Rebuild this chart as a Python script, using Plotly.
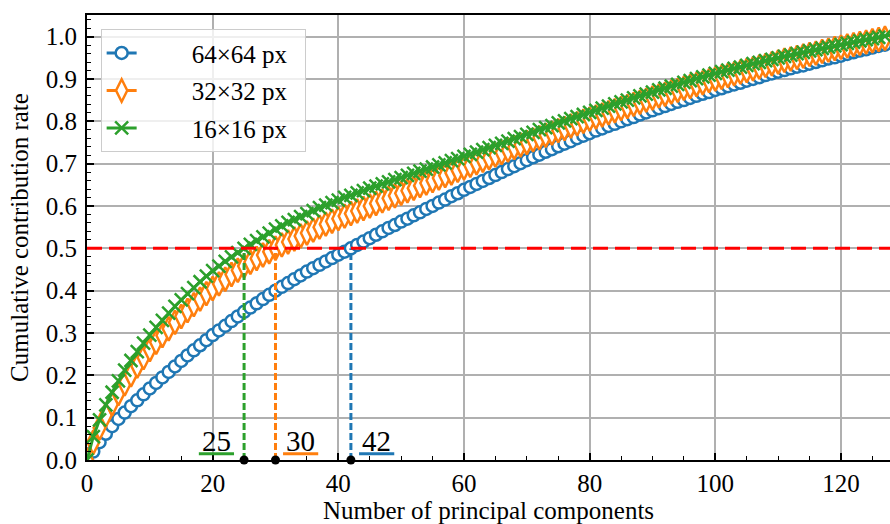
import plotly.graph_objects as go

# Number of retained principal components (0 .. 128)
n_components = list(range(129))

# Cumulative contribution rate for each patch size
rate_64 = [
    0.000, 0.020, 0.042, 0.062, 0.080, 0.097, 0.112, 0.127, 0.141, 0.155,
    0.169, 0.182, 0.195, 0.208, 0.221, 0.234, 0.247, 0.259, 0.271, 0.283,
    0.295, 0.306, 0.317, 0.328, 0.339, 0.350, 0.360, 0.370, 0.380, 0.390,
    0.400, 0.409, 0.418, 0.427, 0.436, 0.445, 0.453, 0.461, 0.469, 0.477,
    0.485, 0.492, 0.500, 0.508, 0.516, 0.524, 0.532, 0.540, 0.548, 0.555,
    0.563, 0.570, 0.578, 0.585, 0.593, 0.600, 0.608, 0.615, 0.623, 0.630,
    0.638, 0.645, 0.652, 0.659, 0.666, 0.673, 0.680, 0.687, 0.694, 0.701,
    0.708, 0.715, 0.721, 0.728, 0.734, 0.741, 0.747, 0.753, 0.760, 0.766,
    0.772, 0.778, 0.783, 0.789, 0.794, 0.800, 0.805, 0.810, 0.816, 0.821,
    0.826, 0.831, 0.836, 0.841, 0.846, 0.850, 0.855, 0.860, 0.865, 0.869,
    0.874, 0.878, 0.883, 0.887, 0.891, 0.896, 0.900, 0.904, 0.909, 0.913,
    0.917, 0.921, 0.925, 0.929, 0.932, 0.936, 0.940, 0.944, 0.948, 0.951,
    0.955, 0.959, 0.963, 0.967, 0.970, 0.974, 0.978, 0.981, 0.985,
]
rate_32 = [
    0.000, 0.042, 0.076, 0.106, 0.133, 0.157, 0.180, 0.201, 0.222, 0.242,
    0.261, 0.278, 0.294, 0.310, 0.325, 0.339, 0.353, 0.367, 0.380, 0.393,
    0.405, 0.416, 0.427, 0.438, 0.448, 0.458, 0.467, 0.476, 0.484, 0.492,
    0.500, 0.508, 0.515, 0.522, 0.529, 0.536, 0.543, 0.550, 0.557, 0.564,
    0.570, 0.576, 0.582, 0.588, 0.594, 0.600, 0.606, 0.612, 0.618, 0.624,
    0.630, 0.636, 0.642, 0.648, 0.654, 0.660, 0.666, 0.672, 0.678, 0.684,
    0.690, 0.696, 0.702, 0.708, 0.714, 0.720, 0.726, 0.732, 0.738, 0.744,
    0.750, 0.756, 0.761, 0.767, 0.772, 0.778, 0.783, 0.789, 0.794, 0.800,
    0.805, 0.810, 0.815, 0.820, 0.825, 0.830, 0.835, 0.840, 0.845, 0.850,
    0.855, 0.860, 0.864, 0.869, 0.873, 0.878, 0.882, 0.887, 0.891, 0.896,
    0.900, 0.904, 0.908, 0.912, 0.916, 0.920, 0.924, 0.928, 0.932, 0.936,
    0.940, 0.944, 0.947, 0.951, 0.954, 0.958, 0.961, 0.965, 0.968, 0.972,
    0.975, 0.978, 0.981, 0.984, 0.987, 0.990, 0.993, 0.996, 0.999,
]
rate_16 = [
    0.000, 0.055, 0.095, 0.130, 0.160, 0.187, 0.212, 0.235, 0.256, 0.276,
    0.295, 0.313, 0.330, 0.347, 0.363, 0.378, 0.393, 0.407, 0.421, 0.434,
    0.447, 0.458, 0.469, 0.480, 0.490, 0.500, 0.509, 0.518, 0.527, 0.536,
    0.545, 0.553, 0.561, 0.568, 0.575, 0.582, 0.589, 0.596, 0.602, 0.608,
    0.614, 0.620, 0.625, 0.631, 0.636, 0.642, 0.647, 0.652, 0.657, 0.662,
    0.667, 0.672, 0.677, 0.682, 0.687, 0.692, 0.697, 0.702, 0.707, 0.712,
    0.717, 0.722, 0.727, 0.733, 0.738, 0.743, 0.748, 0.753, 0.759, 0.764,
    0.769, 0.774, 0.780, 0.785, 0.790, 0.796, 0.801, 0.806, 0.811, 0.816,
    0.821, 0.826, 0.831, 0.836, 0.841, 0.846, 0.850, 0.855, 0.860, 0.864,
    0.869, 0.874, 0.878, 0.883, 0.887, 0.892, 0.896, 0.901, 0.905, 0.909,
    0.913, 0.917, 0.921, 0.925, 0.928, 0.932, 0.936, 0.939, 0.943, 0.946,
    0.950, 0.953, 0.956, 0.960, 0.963, 0.966, 0.969, 0.972, 0.975, 0.978,
    0.981, 0.984, 0.987, 0.990, 0.993, 0.995, 0.998, 1.001, 1.004,
]

series_names = ["64\u00d764 px", "32\u00d732 px", "16\u00d716 px"]
series_rates = [rate_64, rate_32, rate_16]
series_colors = ["#1f77b4", "#ff7f0e", "#2ca02c"]
series_symbols = ["circle", "diamond-tall", "x-thin"]
series_fills = ["white", "white", "#2ca02c"]
series_sizes = [12, 17, 13]

# Components needed to reach the threshold, per patch size
threshold_rate = 0.5
threshold_components = [42, 30, 25]
# Horizontal offset of each count label from its dashed line
label_offsets = [4.1, 4.0, -4.4]

FONT = "Liberation Serif, Times New Roman, serif"
# Spacing around the legend text
LEGEND_PAD_LEFT = "\u2003\u2003"
LEGEND_PAD_RIGHT = "\u2002"

fig = go.Figure()

for name, rate, color, symbol, fill, size in zip(
    series_names, series_rates, series_colors, series_symbols,
    series_fills, series_sizes
):
    fig.add_trace(
        go.Scatter(
            x=n_components,
            y=rate,
            name=LEGEND_PAD_LEFT + name + LEGEND_PAD_RIGHT,
            mode="lines+markers",
            line=dict(color=color, width=3),
            marker=dict(
                symbol=symbol,
                size=size,
                color=fill,
                line=dict(color=color, width=2.5),
            ),
            legendgroup=name,
        )
    )

# Threshold line
fig.add_shape(
    type="line",
    xref="x domain",
    yref="y",
    x0=0,
    x1=1,
    y0=threshold_rate,
    y1=threshold_rate,
    line=dict(color="#ff0000", width=3, dash="15px,7px"),
    layer="above",
)

# Drop lines, markers on the axis and count labels
for k, color, off in zip(threshold_components, series_colors, label_offsets):
    fig.add_trace(
        go.Scatter(
            x=[k, k],
            y=[0, threshold_rate],
            mode="lines",
            line=dict(color=color, width=3, dash="7px,3px"),
            showlegend=False,
            hoverinfo="skip",
        )
    )
    fig.add_trace(
        go.Scatter(
            x=[k],
            y=[0],
            mode="markers",
            marker=dict(color="black", size=9),
            cliponaxis=False,
            showlegend=False,
            hoverinfo="skip",
        )
    )
    cx = k + off
    fig.add_shape(
        type="line",
        xref="x",
        yref="y",
        x0=cx - 2.8,
        x1=cx + 2.8,
        y0=0.015,
        y1=0.015,
        line=dict(color=color, width=3),
    )
    fig.add_annotation(
        x=cx,
        y=0.045,
        xref="x",
        yref="y",
        text=str(k),
        showarrow=False,
        font=dict(family=FONT, size=29, color="black"),
        yanchor="middle",
    )

axis_common = dict(
    showline=True,
    linecolor="black",
    linewidth=2,
    ticks="inside",
    ticklen=7,
    tickwidth=1.5,
    tickcolor="black",
    showgrid=True,
    gridcolor="#b0b0b0",
    gridwidth=1.6,
    zeroline=False,
    automargin=False,
    tickfont=dict(family=FONT, size=25, color="black"),
)

fig.update_xaxes(
    **axis_common,
    range=[0, 127.8],
    dtick=20,
    tick0=0,
    mirror=True,
    minor=dict(dtick=5, tick0=0, ticks="inside", ticklen=4, tickwidth=1.2,
               tickcolor="black", showgrid=False),
    title=dict(text="Number of principal components",
               font=dict(family=FONT, size=25, color="black"), standoff=10),
    ticklabelstandoff=0,
)
fig.update_yaxes(
    **axis_common,
    range=[0, 1.051],
    dtick=0.1,
    tick0=0,
    tickformat=".1f",
    minor=dict(dtick=0.02, tick0=0, ticks="inside", ticklen=4, tickwidth=1.2,
               tickcolor="black", showgrid=False),
    title=dict(text="Cumulative contribution rate",
               font=dict(family=FONT, size=25, color="black"), standoff=10),
    ticklabelstandoff=3,
)

fig.update_layout(
    width=890,
    height=524,
    margin=dict(l=87, r=0, t=15, b=64),
    paper_bgcolor="white",
    plot_bgcolor="white",
    font=dict(family=FONT, color="black"),
    legend=dict(
        x=0.017,
        y=0.968,
        xanchor="left",
        yanchor="top",
        bgcolor="rgba(255,255,255,0.8)",
        bordercolor="#cccccc",
        borderwidth=1,
        font=dict(family=FONT, size=25, color="black"),
        tracegroupgap=2,
    ),
)

fig.write_html("out.html")
